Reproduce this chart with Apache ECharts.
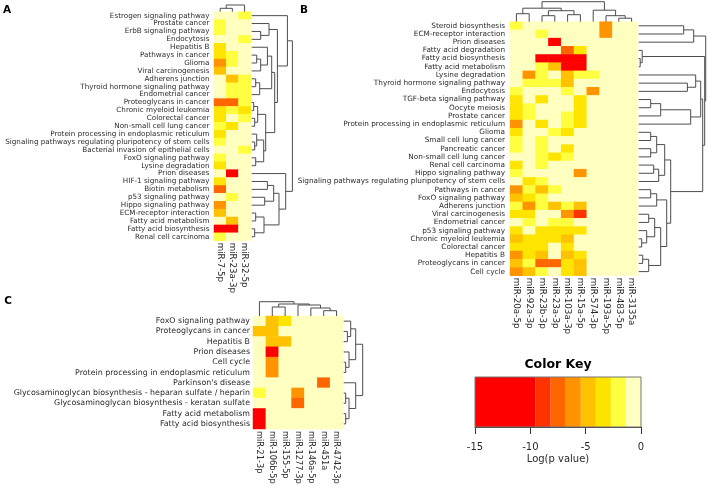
<!DOCTYPE html>
<html>
<head>
<meta charset="utf-8">
<script src="https://cdn.jsdelivr.net/npm/echarts@6/dist/echarts.min.js"></script>
<style>
  html, body { margin: 0; padding: 0; background: #fff; }
  #main { width: 708px; height: 486px; }
</style>
</head>
<body>
<div id="main"></div>
<script>
// ---- data: log(p value) per pathway (row) and miRNA (column) ----
var rowsA = ['Estrogen signaling pathway', 'Prostate cancer', 'ErbB signaling pathway', 'Endocytosis',
  'Hepatitis B', 'Pathways in cancer', 'Glioma', 'Viral carcinogenesis', 'Adherens junction',
  'Thyroid hormone signaling pathway', 'Endometrial cancer', 'Proteoglycans in cancer',
  'Chronic myeloid leukemia', 'Colorectal cancer', 'Non-small cell lung cancer',
  'Protein processing in endoplasmic reticulum', 'Signaling pathways regulating pluripotency of stem cells',
  'Bacterial invasion of epithelial cells', 'FoxO signaling pathway', 'Lysine degradation',
  'Prion diseases', 'HIF-1 signaling pathway', 'Biotin metabolism', 'p53 signaling pathway',
  'Hippo signaling pathway', 'ECM-receptor interaction', 'Fatty acid metabolism',
  'Fatty acid biosynthesis', 'Renal cell carcinoma'];
var colsA = ['miR-7-5p', 'miR-23a-3p', 'miR-32-5p'];
var valuesA = [
  [0, 0, -2.1], [-2.2, 0, 0], [-2.3, 0, 0], [0, 0, -2.2], [-3.3, 0, 0], [-3.4, -2.1, 0],
  [-5.8, -2.3, 0], [-4.6, 0, 0], [0, -4.5, -2.2], [0, -2.4, -2.3], [0, -2.3, -2.4],
  [-7.2, -7.6, -2.3], [-3.2, -2.4, -3.3], [-3.1, 0, -2.2], [-2.1, -3.2, 0], [-3.3, 0, 0],
  [-2.3, 0, 0], [0, 0, -2.1], [-2.4, 0, 0], [-3.2, 0, 0], [0, -11.5, 0], [-3.3, 0, 0],
  [-7.0, 0, 0], [0, -2.2, 0], [-6.0, 0, 0], [-4.6, 0, 0], [0, -4.7, 0], [-11.8, -11.2, 0],
  [-2.3, 0, 0]
];

var rowsB = ['Steroid biosynthesis', 'ECM-receptor interaction', 'Prion diseases', 'Fatty acid degradation',
  'Fatty acid biosynthesis', 'Fatty acid metabolism', 'Lysine degradation',
  'Thyroid hormone signaling pathway', 'Endocytosis', 'TGF-beta signaling pathway', 'Oocyte meiosis',
  'Prostate cancer', 'Protein processing in endoplasmic reticulum', 'Glioma', 'Small cell lung cancer',
  'Pancreatic cancer', 'Non-small cell lung cancer', 'Renal cell carcinoma', 'Hippo signaling pathway',
  'Signaling pathways regulating pluripotency of stem cells', 'Pathways in cancer',
  'FoxO signaling pathway', 'Adherens junction', 'Viral carcinogenesis', 'Endometrial cancer',
  'p53 signaling pathway', 'Chronic myeloid leukemia', 'Colorectal cancer', 'Hepatitis B',
  'Proteoglycans in cancer', 'Cell cycle'];
var colsB = ['miR-20a-5p', 'miR-92a-3p', 'miR-23b-3p', 'miR-23a-3p', 'miR-103a-3p', 'miR-15a-5p',
  'miR-574-3p', 'miR-193a-5p', 'miR-483-5p', 'miR-3135a'];
var valuesB = [
  [-2.2, 0, 0, 0, 0, 0, 0, -6.0, 0, 0],
  [0, 0, -2.4, 0, 0, 0, 0, -5.9, 0, 0],
  [0, 0, 0, -11.6, 0, 0, 0, 0, 0, 0],
  [0, 0, 0, 0, -7.3, -3.3, 0, 0, 0, 0],
  [0, 0, -12.5, -13.1, -12.8, -11.9, 0, 0, 0, 0],
  [0, 0, -2.3, -4.6, -12.2, -12.7, 0, 0, 0, 0],
  [0, -6.1, -2.3, 0, -4.8, -2.2, -2.1, 0, 0, 0],
  [0, -2.3, -2.4, -2.1, -4.6, 0, 0, 0, 0, 0],
  [-2.2, 0, 0, 0, -2.3, 0, -5.9, 0, 0, 0],
  [-3.3, 0, -3.2, 0, 0, -3.4, 0, 0, 0, 0],
  [-3.3, -2.2, 0, 0, 0, -3.3, 0, 0, 0, 0],
  [-3.1, -2.3, 0, 0, -2.2, -3.2, 0, 0, 0, 0],
  [-5.9, 0, -3.2, 0, -2.3, -3.3, 0, 0, 0, 0],
  [-3.2, 0, 0, -2.4, -3.1, 0, 0, 0, 0, 0],
  [-2.3, 0, -2.2, 0, 0, 0, 0, 0, 0, 0],
  [-2.2, 0, -2.3, 0, -3.2, 0, 0, 0, 0, 0],
  [0, 0, -2.2, -3.1, -2.3, 0, 0, 0, 0, 0],
  [-3.2, 0, -2.3, 0, 0, 0, 0, 0, 0, 0],
  [-2.2, 0, 0, 0, 0, -6.2, 0, 0, 0, 0],
  [0, -3.3, -2.3, 0, 0, 0, 0, 0, 0, 0],
  [-5.8, -2.3, -4.8, -2.2, 0, 0, 0, 0, 0, 0],
  [-4.7, -3.2, -2.2, 0, 0, 0, 0, 0, 0, 0],
  [-2.3, -5.9, -2.2, -4.7, -2.3, -4.6, 0, 0, 0, 0],
  [-3.3, -3.2, 0, 0, -6.0, -8.9, 0, 0, 0, 0],
  [0, -2.3, 0, -2.2, -2.2, 0, 0, 0, 0, 0],
  [-3.3, 0, -3.2, -3.1, -3.3, -3.2, 0, 0, 0, 0],
  [-4.6, -3.3, -3.1, -3.2, -4.7, 0, 0, 0, 0, 0],
  [-3.8, -3.2, -3.3, 0, -3.1, 0, 0, 0, 0, 0],
  [-5.7, -3.2, -4.7, 0, -4.6, -3.3, 0, 0, 0, 0],
  [-4.6, -2.3, -7.4, -7.2, -3.2, -4.8, 0, 0, 0, 0],
  [-5.9, -4.7, -2.3, 0, -3.2, -4.6, 0, 0, 0, 0]
];

var rowsC = ['FoxO signaling pathway', 'Proteoglycans in cancer', 'Hepatitis B', 'Prion diseases',
  'Cell cycle', 'Protein processing in endoplasmic reticulum', "Parkinson's disease",
  'Glycosaminoglycan biosynthesis - heparan sulfate / heparin',
  'Glycosaminoglycan biosynthesis - keratan sulfate', 'Fatty acid metabolism', 'Fatty acid biosynthesis'];
var colsC = ['miR-21-3p', 'miR-106b-5p', 'miR-155-5p', 'miR-1277-3p', 'miR-146a-5p', 'miR-451a', 'miR-4742-3p'];
var valuesC = [
  [0, -4.7, -3.3, 0, 0, 0, 0],
  [-4.6, -4.8, 0, 0, 0, 0, 0],
  [0, -4.6, -4.7, 0, 0, 0, 0],
  [0, -12.0, 0, 0, 0, 0, 0],
  [0, -5.9, 0, 0, 0, 0, 0],
  [0, -5.8, 0, 0, 0, 0, 0],
  [0, 0, 0, 0, 0, -7.1, 0],
  [-2.2, 0, 0, -5.9, 0, 0, 0],
  [0, 0, 0, -7.0, 0, 0, 0],
  [-11.4, 0, 0, 0, 0, 0, 0],
  [-11.9, 0, 0, 0, 0, 0, 0]
];

// dendrograms: a leaf is a row/column index, a node is [left, right, merge height]
var rowTreeA = [
  [0, [[1, [2, 3, 9], 17.3],
       [[[4, [[5, 6, 5], 7, 9], 15.7], [[8, 9, 4], 10, 8], 20],
        [[[11, 12, 2], [13, 14, 3], 6], [[15, [16, 17, 3], 5], [18, 19, 4], 12], 14], 23],
       25.7], 35.7],
  [20, [[[21, 22, 15.7], [23, 24, 13], 22], [[25, 26, 4], [27, 28, 3], 12.3], 27.3], 34],
  40.7
];
var colTreeA = [[0, 1, 3.4], 2, 6.7];

var rowTreeB = [
  [[0, 1, 45], 2, 55],
  [[3, [4, 5, 1.5], 3.5],
   [[[6, [7, 8, 48.7], 57], [[[9, 10, 12], 11, 22], 12, 52], 62],
    [[[[13, 14, 12], [15, 16, 12], 18], [[17, 18, 15], 19, 20], 26],
     [[[20, 21, 12], 22, 18], [[[23, 24, 10], [25, [26, 27, 3], 8], 16], [[28, 29, 4], 30, 10], 22], 28], 32],
    64],
   66],
  67
];
var colTreeB = [[[0, 1, 8], [[2, 3, 6], [4, 5, 7], 11], 13.5], [6, [7, [8, 9, 3.5], 6], 11.5], 20];

var rowTreeC = [[[0, [1, 2, 3.7], 7], [3, [4, 5, 2], 5.3], 12], [6, [[7, 8, 2], [9, 10, 2], 5.3], 12], 19];
var colTreeC = [0, [[1, 2, 9], [3, [4, [5, 6, 5.3], 8], 11], 12], 14.3];

// colour key
var keyBreaks = [-15, -9.52, -8.16, -6.8, -5.44, -4.08, -2.72, -1.36, 0];
var keyColors = ['#FF0000', '#FF3300', '#FF6600', '#FF9400', '#FFC200', '#FFE400', '#FFFF40', '#FFFFBF'];

// ---- helpers ----
var FONT = 'DejaVu Sans';
var TEXT = '#2b2b2b';
var LINE = '#4d4d4d';

function heatData(values) {
  var d = [];
  values.forEach(function (row, r) {
    row.forEach(function (v, c) { d.push([c, r, v]); });
  });
  return d;
}

// flatten a tree into U-shaped polylines; rows: x = height, y = leaf position
function dendroSegments(tree, rows) {
  var segs = [];
  function walk(n) {
    if (typeof n === 'number') return { p: n, h: 0 };
    var a = walk(n[0]), b = walk(n[1]), h = n[2];
    var pts = [[a.h, a.p], [h, a.p], [h, b.p], [b.h, b.p]];
    if (!rows) pts = pts.map(function (q) { return [q[1], q[0]]; });
    segs.push([].concat.apply([], pts));
    return { p: (a.p + b.p) / 2, h: h };
  }
  walk(tree);
  return segs;
}

function renderDendro(params, api) {
  var pts = [];
  for (var i = 0; i < 4; i++) pts.push(api.coord([api.value(2 * i), api.value(2 * i + 1)]));
  return { type: 'polyline', shape: { points: pts }, style: { stroke: LINE, lineWidth: 1, fill: null } };
}

function renderBand(params, api) {
  var p0 = api.coord([api.value(0), 1]);
  var p1 = api.coord([api.value(1), 0]);
  return {
    type: 'rect',
    shape: { x: p0[0], y: p0[1], width: p1[0] - p0[0], height: p1[1] - p0[1] },
    style: { fill: keyColors[api.value(2)] }
  };
}

var panels = [
  { rows: rowsA, cols: colsA, values: valuesA, rowTree: rowTreeA, colTree: colTreeA,
    heat: { left: 214, top: 11.7, width: 36.7, height: 229 },
    colDendro: { top: 5, height: 6.7 }, rowDendro: { left: 251.7, width: 40.7 },
    rowFont: 7.2, colFont: 8.7, rowGap: 4.5 },
  { rows: rowsB, cols: colsB, values: valuesB, rowTree: rowTreeB, colTree: colTreeB,
    heat: { left: 510, top: 21.7, width: 128, height: 254 },
    colDendro: { top: 1.7, height: 20 }, rowDendro: { left: 638.7, width: 67 },
    rowFont: 7.3, colFont: 8.8, rowGap: 5 },
  { rows: rowsC, cols: colsC, values: valuesC, rowTree: rowTreeC, colTree: colTreeC,
    heat: { left: 253, top: 316, width: 90, height: 113 },
    colDendro: { top: 301.7, height: 14.3 }, rowDendro: { left: 343.7, width: 19 },
    rowFont: 7.9, colFont: 8.2, rowGap: 3 }
];

var option = {
  animation: false,
  backgroundColor: '#fff',
  grid: [], xAxis: [], yAxis: [], series: [],
  graphic: []
};

function addGrid(box) {
  option.grid.push(Object.assign({ outerBoundsMode: 'none', containLabel: false }, box));
  return option.grid.length - 1;
}

var hidden = { show: false };
var heatIdx = [];

panels.forEach(function (p) {
  // heatmap
  var g = addGrid(p.heat);
  option.xAxis.push({
    gridIndex: g, type: 'category', data: p.cols, position: 'bottom',
    axisLine: hidden, axisTick: hidden, splitLine: hidden,
    axisLabel: { interval: 0, rotate: -90, fontSize: p.colFont, color: TEXT, margin: 2, fontFamily: FONT }
  });
  option.yAxis.push({
    gridIndex: g, type: 'category', data: p.rows, inverse: true,
    axisLine: hidden, axisTick: hidden, splitLine: hidden,
    axisLabel: { interval: 0, fontSize: p.rowFont, color: TEXT, margin: p.rowGap, fontFamily: FONT }
  });
  heatIdx.push(option.series.length);
  option.series.push({
    type: 'heatmap', xAxisIndex: g, yAxisIndex: g, data: heatData(p.values),
    emphasis: { disabled: true }, silent: true
  });

  // column dendrogram on top
  var gc = addGrid({ left: p.heat.left, width: p.heat.width, top: p.colDendro.top, height: p.colDendro.height });
  option.xAxis.push({ gridIndex: gc, type: 'value', min: -0.5, max: p.cols.length - 0.5, show: false });
  option.yAxis.push({ gridIndex: gc, type: 'value', min: 0, max: p.colTree[2], show: false });
  option.series.push({
    type: 'custom', xAxisIndex: gc, yAxisIndex: gc, silent: true,
    renderItem: renderDendro, data: dendroSegments(p.colTree, false)
  });

  // row dendrogram on the right
  var gr = addGrid({ left: p.rowDendro.left, width: p.rowDendro.width, top: p.heat.top, height: p.heat.height });
  option.xAxis.push({ gridIndex: gr, type: 'value', min: 0, max: p.rowTree[2], show: false });
  option.yAxis.push({ gridIndex: gr, type: 'value', min: -0.5, max: p.rows.length - 0.5, inverse: true, show: false });
  option.series.push({
    type: 'custom', xAxisIndex: gr, yAxisIndex: gr, silent: true,
    renderItem: renderDendro, data: dendroSegments(p.rowTree, true)
  });
});

// colour key
var keyBox = { left: 475, top: 377, width: 166, height: 50 };
var gk = addGrid(keyBox);
option.xAxis.push({
  gridIndex: gk, type: 'value', min: -15, max: 0, interval: 5,
  axisLine: { show: true, onZero: false, lineStyle: { color: '#333', width: 1 } },
  axisTick: { show: true, length: 7, lineStyle: { color: '#333' } },
  splitLine: hidden,
  axisLabel: { fontSize: 10, color: TEXT, margin: 15, fontFamily: FONT },
  name: 'Log(p value)', nameLocation: 'middle', nameGap: 27,
  nameTextStyle: { fontSize: 10, color: TEXT, fontFamily: FONT }
});
option.yAxis.push({ gridIndex: gk, type: 'value', min: 0, max: 1, show: false });
var keyBands = [];
for (var i = 0; i < keyColors.length; i++) keyBands.push([keyBreaks[i], keyBreaks[i + 1], i]);
option.series.push({
  type: 'custom', xAxisIndex: gk, yAxisIndex: gk, silent: true,
  renderItem: renderBand, data: keyBands
});

var pieces = [];
for (var j = 0; j < keyColors.length; j++) {
  pieces.push({
    gte: j === 0 ? -100 : keyBreaks[j],
    lt: j === keyColors.length - 1 ? 1 : keyBreaks[j + 1],
    color: keyColors[j]
  });
}
option.visualMap = { type: 'piecewise', show: false, dimension: 2, seriesIndex: heatIdx, pieces: pieces };

function label(text, x, y, size) {
  return {
    type: 'text', x: x, y: y, silent: true,
    style: { text: text, font: 'bold ' + size + 'px "DejaVu Sans"', fill: '#000',
      align: 'center', verticalAlign: 'middle', textAlign: 'center', textVerticalAlign: 'middle' }
  };
}
option.graphic = [
  label('A', 7, 10.5, 10.5),
  label('B', 304, 10.5, 10.5),
  label('C', 8, 301, 10.5),
  label('Color Key', 558, 365, 12.5),
  {
    type: 'rect', silent: true, z: 100,
    shape: { x: keyBox.left, y: keyBox.top, width: keyBox.width, height: keyBox.height },
    style: { fill: null, stroke: '#777', lineWidth: 1 }
  }
];

var chart = echarts.init(document.getElementById('main'), null, { renderer: 'canvas' });
chart.setOption(option);
</script>
</body>
</html>
